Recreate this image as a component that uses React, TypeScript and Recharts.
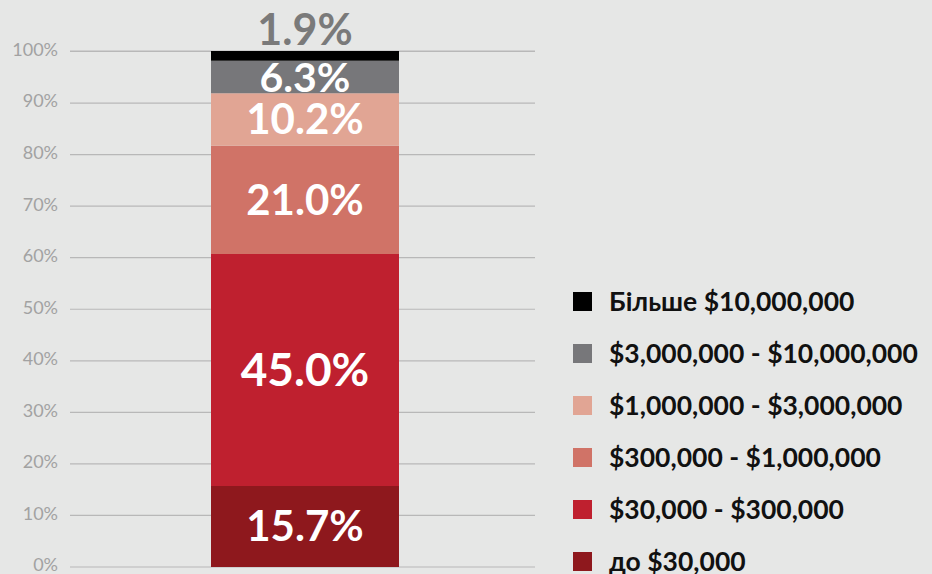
import React from 'react';
import { BarChart, Bar, XAxis, YAxis, CartesianGrid, LabelList, Legend } from 'recharts';

const categories = ['Усього'];
const seriesKeys = ['s1', 's2', 's3', 's4', 's5', 's6'];
const seriesNames = [
  'до $30,000',
  '$30,000 - $300,000',
  '$300,000 - $1,000,000',
  '$1,000,000 - $3,000,000',
  '$3,000,000 - $10,000,000',
  'Більше $10,000,000',
];
const seriesValues = [15.7, 45.0, 21.0, 10.2, 6.3, 1.9];
const seriesColors = ['#8e181d', '#bf202f', '#d07367', '#e1a594', '#77777a', '#000000'];
const labelSizes = [42, 46, 42, 42, 41, 43];
const yTicks = [0, 10, 20, 30, 40, 50, 60, 70, 80, 90, 100];

const data = categories.map((c) => {
  const row: Record<string, any> = { name: c };
  seriesKeys.forEach((k, i) => {
    row[k] = seriesValues[i];
  });
  return row;
});

const FONT = 'Lato, "Noto Sans", sans-serif';

const renderLegend = () => {
  const idx = seriesNames.map((_, i) => i).reverse();
  return (
    <div style={{ fontFamily: FONT, fontWeight: 700, fontSize: 26.5, color: '#111', whiteSpace: 'nowrap' }}>
      {idx.map((i) => (
        <div key={i} style={{ display: 'flex', alignItems: 'center', height: 52 }}>
          <span style={{ display: 'inline-block', flex: '0 0 auto', width: 19, height: 19, background: seriesColors[i], marginRight: 17 }} />
          <span>{seriesNames[i]}</span>
        </div>
      ))}
    </div>
  );
};

const fmt = (v: any) => `${Number(v).toFixed(1)}%`;

export default function App() {
  return (
    <div style={{ position: 'absolute', left: 0, top: 0, width: 932, height: 574, background: '#e6e7e6', overflow: 'hidden' }}>
      <BarChart
        width={932}
        height={574}
        data={data}
        margin={{ top: 51, right: 397, bottom: 7, left: 0 }}
      >
        <CartesianGrid vertical={false} stroke="#b8b8b8" strokeWidth={1.2} />
        <XAxis dataKey="name" hide padding={{ left: 5, right: 0 }} />
        <YAxis
          width={70}
          domain={[0, 100.1]}
          ticks={yTicks}
          interval={0}
          tickFormatter={(v: number) => `${v}%`}
          tickLine={false}
          axisLine={false}
          tickSize={0}
          tickMargin={12}
          tick={{ fill: '#a2a2a2', fontSize: 18, fontFamily: FONT, dy: -2 }}
        />
        <Legend
          layout="horizontal"
          align="center"
          verticalAlign="middle"
          content={renderLegend}
          wrapperStyle={{ left: 573, top: 275, width: 359, height: 312 }}
        />
        {seriesKeys.map((k, i) => (
          <Bar
            key={k}
            dataKey={k}
            name={seriesNames[i]}
            stackId="a"
            fill={seriesColors[i]}
            barSize={188}
            isAnimationActive={false}
          >
            {i === seriesKeys.length - 1 ? (
              <LabelList
                dataKey={k}
                position="top"
                offset={6}
                formatter={fmt}
                fill="#7a7a7a"
                style={{ fontSize: labelSizes[i], fontFamily: FONT, fontWeight: 700 }}
              />
            ) : (
              <LabelList
                dataKey={k}
                position="center"
                formatter={fmt}
                fill="#ffffff"
                style={{ fontSize: labelSizes[i], fontFamily: FONT, fontWeight: 700 }}
              />
            )}
          </Bar>
        ))}
      </BarChart>
    </div>
  );
}
